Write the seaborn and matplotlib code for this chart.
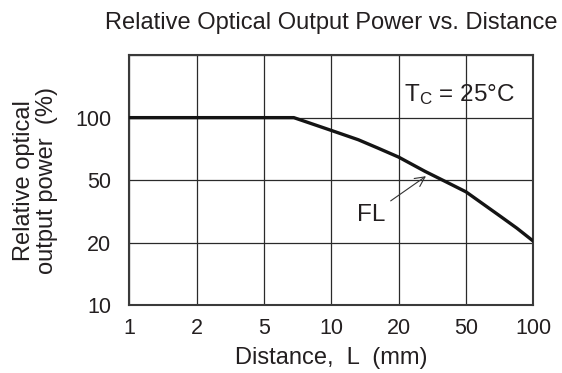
import numpy as np
import matplotlib
matplotlib.use("Agg")
import matplotlib.pyplot as plt
import seaborn as sns

# Data
distance_mm = [1, 6.8, 10, 13.2, 16.2, 20, 28.6, 36.5, 50, 71, 84.4, 100]
rel_power_pct = [100, 100, 86.8, 78.3, 71.3, 64.6, 55.2, 50, 42.2, 29.6, 24.8, 20.5]
x_ticks = [1, 2, 5, 10, 20, 50, 100]
y_ticks = [10, 20, 50, 100, 200]
y_tick_labels = ["10", "20", "50", "100", ""]

sns.set_style("white")
plt.rcParams["font.family"] = ["Liberation Sans", "DejaVu Sans"]
plt.rcParams["mathtext.fontset"] = "custom"
plt.rcParams["mathtext.rm"] = "Liberation Sans"
plt.rcParams["mathtext.it"] = "Liberation Sans"

TXT = "#231f20"


def make_scale(ticks):
    lt = np.log10(np.asarray(ticks, dtype=float))
    idx = np.arange(len(ticks), dtype=float)
    s0 = 1.0 / (lt[1] - lt[0])
    s1 = 1.0 / (lt[-1] - lt[-2])

    def fwd(v):
        v = np.clip(np.asarray(v, dtype=float), 1e-9, None)
        lv = np.log10(v)
        out = np.interp(lv, lt, idx)
        out = np.where(lv < lt[0], idx[0] + (lv - lt[0]) * s0, out)
        out = np.where(lv > lt[-1], idx[-1] + (lv - lt[-1]) * s1, out)
        return out

    def inv(p):
        p = np.asarray(p, dtype=float)
        out = np.interp(p, idx, lt)
        out = np.where(p < idx[0], lt[0] + (p - idx[0]) / s0, out)
        out = np.where(p > idx[-1], lt[-1] + (p - idx[-1]) / s1, out)
        return 10 ** out

    return fwd, inv


fig = plt.figure(figsize=(5.62, 3.73), dpi=100)
ax = fig.add_axes([0.230, 0.181, 0.719, 0.6715])

ax.set_xscale("function", functions=make_scale(x_ticks))
ax.set_yscale("function", functions=make_scale(y_ticks))

sns.lineplot(x=distance_mm, y=rel_power_pct, ax=ax, color="#141414", lw=2.4,
             sort=False, zorder=3)

ax.set_xlim(1, 100)
ax.set_ylim(10, 200)
ax.set_xticks(x_ticks)
ax.set_xticklabels([str(t) for t in x_ticks])
ax.set_yticks(y_ticks)
ax.set_yticklabels(y_tick_labels)
ax.minorticks_off()
ax.tick_params(axis="x", length=0, pad=9, labelsize=15.5, colors=TXT)
ax.tick_params(axis="y", length=0, pad=13, labelsize=15.5, colors=TXT)

ax.grid(True, color="#2a2a2a", lw=0.9)
for s in ax.spines.values():
    s.set_visible(True)
    s.set_color("#3a3a3a")
    s.set_linewidth(1.5)

ax.set_xlabel("Distance,  L  (mm)", fontsize=17, color=TXT, labelpad=6)
ax.set_ylabel("Relative optical\noutput power  (%)", fontsize=17, color=TXT,
              labelpad=12, linespacing=1.1)
ax.set_title("Relative Optical Output Power vs. Distance", fontsize=17,
             color=TXT, pad=19)

ax.text(21.5, 120, r"T$_\mathrm{C}$ = 25°C", fontsize=17.5, color=TXT,
        ha="left", va="baseline")

ax.annotate("FL", xy=(29.0, 52.3), xytext=(17.4, 30.2), fontsize=17.5,
            color=TXT, ha="right", va="center",
            arrowprops=dict(arrowstyle="->", color="#333333", lw=0.8,
                            shrinkA=2, shrinkB=0))

fig.savefig("out.png", dpi=100)
